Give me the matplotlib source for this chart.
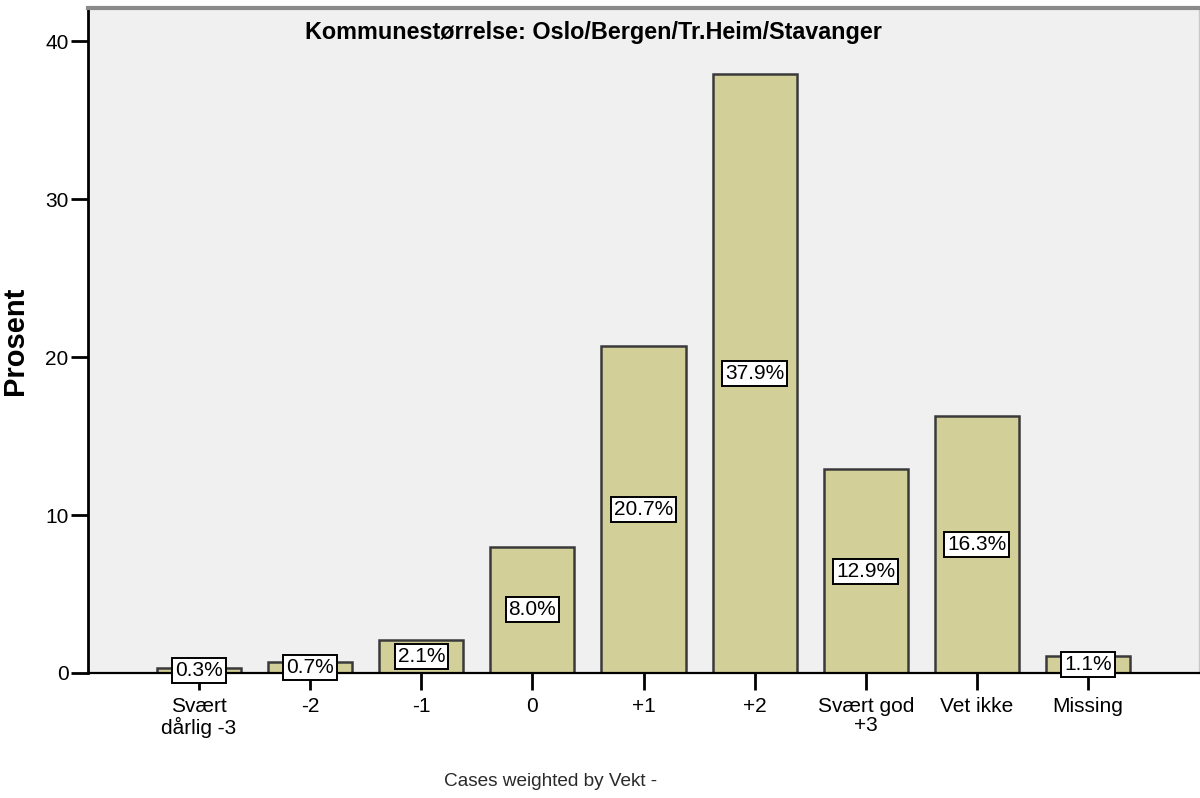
import matplotlib

matplotlib.use("Agg")
import matplotlib.pyplot as plt
import numpy as np

plt.rcParams["font.family"] = ["Liberation Sans", "DejaVu Sans"]

# percentage per answer category
categories = ["Svært\ndårlig -3", "-2", "-1", "0", "+1", "+2", "Svært god\n+3", "Vet ikke", "Missing"]
percent = [0.3, 0.7, 2.1, 8.0, 20.7, 37.9, 12.9, 16.3, 1.1]
title = "Kommunestørrelse: Oslo/Bergen/Tr.Heim/Stavanger"
footnote = "Cases weighted by Vekt -"

fig = plt.figure(figsize=(12, 7.98), dpi=100)
ax = fig.add_axes([88 / 1200, 1 - 673 / 798, 1111 / 1200, 665 / 798])
ax.set_facecolor("#F0F0F0")

x = np.arange(len(categories))
ax.bar(x, percent, width=0.757, color="#D3CF98", edgecolor="#3a3a3a", linewidth=1.8, zorder=2)

# value labels in white boxes, centred halfway up each bar
for xi, v in zip(x, percent):
    ax.text(xi, v / 2, f"{v:.1f}%", ha="center", va="center", fontsize=15, zorder=4,
            bbox=dict(boxstyle="square,pad=0.14", fc="white", ec="black", lw=1.4))

ax.set_xlim(-1.0, 9.0)
ax.set_ylim(0, 42.1)
ax.set_xticks(x)
ax.set_xticklabels(categories, fontsize=15, linespacing=1.05)
ax.set_yticks([0, 10, 20, 30, 40])
ax.tick_params(axis="y", labelsize=15, length=12, width=2, pad=2)
ax.tick_params(axis="x", length=12, width=2, pad=5)
ax.set_ylabel("Prosent", fontsize=21, fontweight="bold", labelpad=12)

ax.spines["left"].set_linewidth(2)
ax.spines["left"].set_color("black")
ax.spines["bottom"].set_linewidth(1.6)
ax.spines["bottom"].set_color("black")
ax.spines["top"].set_linewidth(3)
ax.spines["top"].set_color("#8a8a8a")
ax.spines["right"].set_linewidth(1)
ax.spines["right"].set_color("#c8c8c8")

fig.text(305 / 1200, 1 - 33 / 798, title, ha="left", va="center", fontsize=16.8, fontweight="bold")
fig.text(551 / 1200, 1 - 782 / 798, footnote, ha="center", va="center", fontsize=13.7, color="#2a2a2a")

fig.savefig("out.png", dpi=100, facecolor="white")
